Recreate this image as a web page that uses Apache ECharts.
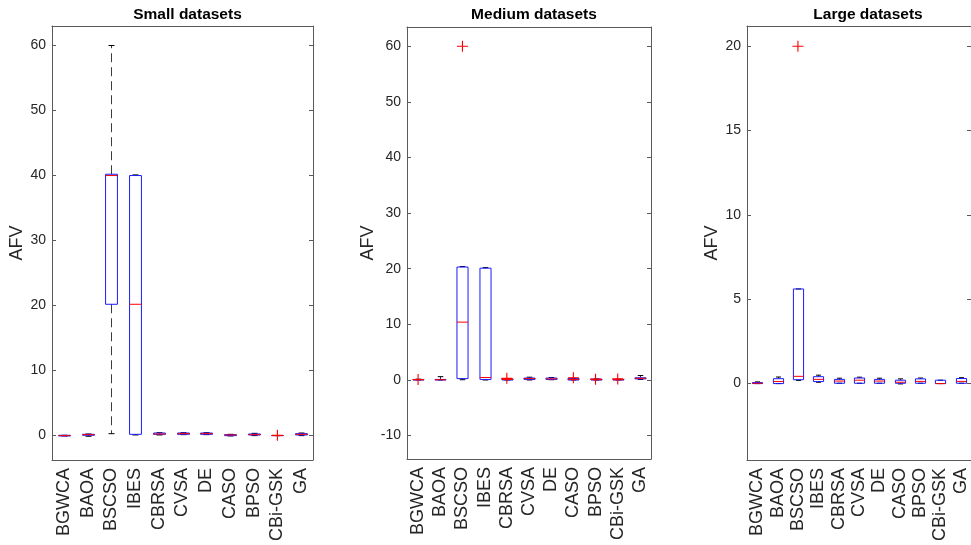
<!DOCTYPE html>
<html>
<head>
<meta charset="utf-8">
<script src="https://cdn.jsdelivr.net/npm/echarts@6/dist/echarts.min.js"></script>
<style>
  html, body { margin: 0; padding: 0; background: #fff; }
  #chart { width: 971px; height: 545px; }
</style>
</head>
<body>
<div id="chart"></div>
<script>
// Algorithms compared in every panel
const categories = ['BGWCA', 'BAOA', 'BSCSO', 'IBES', 'CBRSA', 'CVSA', 'DE', 'CASO', 'BPSO', 'CBi-GSK', 'GA'];

// Box statistics per algorithm: [lower whisker, Q1, median, Q3, upper whisker]
const smallStats = [
  [-0.05, -0.05, 0.0, 0.05, 0.05],
  [-0.1, 0.05, 0.15, 0.2, 0.25],
  [0.3, 20.2, 40.0, 40.2, 60.0],
  [0.1, 0.2, 20.2, 40.0, 40.1],
  [0.1, 0.2, 0.25, 0.4, 0.45],
  [0.15, 0.2, 0.3, 0.4, 0.45],
  [0.15, 0.2, 0.3, 0.4, 0.45],
  [-0.05, 0.0, 0.1, 0.15, 0.2],
  [0.0, 0.1, 0.15, 0.25, 0.35],
  [0.0, 0.0, 0.0, 0.02, 0.02],
  [0.0, 0.1, 0.2, 0.3, 0.4]
];
const mediumStats = [
  [0.0, 0.0, 0.05, 0.1, 0.15],
  [0.0, 0.0, 0.05, 0.1, 0.6],
  [0.05, 0.25, 10.4, 20.3, 20.4],
  [0.0, 0.1, 0.45, 20.1, 20.2],
  [0.0, 0.0, 0.1, 0.2, 0.25],
  [0.0, 0.1, 0.25, 0.35, 0.5],
  [0.05, 0.1, 0.2, 0.35, 0.45],
  [0.0, 0.0, 0.1, 0.25, 0.3],
  [0.0, 0.0, 0.05, 0.15, 0.2],
  [0.0, 0.0, 0.05, 0.1, 0.15],
  [0.1, 0.2, 0.3, 0.4, 0.8]
];
const largeStats = [
  [0.0, 0.0, 0.02, 0.06, 0.1],
  [0.0, 0.0, 0.12, 0.29, 0.39],
  [0.19, 0.23, 0.43, 5.61, 5.61],
  [0.08, 0.12, 0.25, 0.41, 0.5],
  [0.02, 0.02, 0.15, 0.25, 0.32],
  [0.02, 0.02, 0.2, 0.33, 0.38],
  [0.02, 0.02, 0.15, 0.25, 0.32],
  [-0.02, 0.02, 0.08, 0.2, 0.28],
  [0.02, 0.02, 0.13, 0.28, 0.33],
  [0.0, 0.0, 0.0, 0.2, 0.2],
  [0.02, 0.02, 0.13, 0.3, 0.35]
];

// Outliers: [algorithm, value]
const smallOutliers = [['CBi-GSK', 0.05]];
const mediumOutliers = [
  ['BGWCA', 0.1], ['BSCSO', 60.0], ['CBRSA', 0.3], ['CASO', 0.4],
  ['BPSO', 0.15], ['CBi-GSK', 0.2]
];
const largeOutliers = [['BSCSO', 20.0]];

const panelTitles = ['Small datasets', 'Medium datasets', 'Large datasets'];
const yAxisName = 'AFV';

// Panel geometry and value ranges
const panels = [
  { stats: smallStats, outliers: smallOutliers, left: 52, top: 26, width: 261, height: 434, min: -3.75, max: 63, step: 10, nameGap: 22 },
  { stats: mediumStats, outliers: mediumOutliers, left: 407, top: 27, width: 244, height: 432, min: -14.2, max: 63.45, step: 10, nameGap: 26 },
  { stats: largeStats, outliers: largeOutliers, left: 747, top: 26, width: 232, height: 434, min: -4.53, max: 21.2, step: 5, nameGap: 23 }
];

const sans = '"Liberation Sans", Arial, Helvetica, sans-serif';
const frameColor = '#5a5a5a';
const textColor = '#262626';

function renderBox(params, api) {
  const i = api.value(0);
  const lo = api.coord([i, api.value(1)]);
  const q1 = api.coord([i, api.value(2)]);
  const md = api.coord([i, api.value(3)]);
  const q3 = api.coord([i, api.value(4)]);
  const hi = api.coord([i, api.value(5)]);
  const band = api.size([1, 0])[0];
  const bw = band * 0.5;
  const cw = band * 0.25;
  const cx = Math.round(lo[0]) + 0.5;
  const whisker = { stroke: '#3c3c3c', lineWidth: 1, lineDash: [9, 5] };
  const cap = { stroke: '#000', lineWidth: 1 };
  return {
    type: 'group',
    children: [
      { type: 'line', shape: { x1: cx, y1: q3[1], x2: cx, y2: hi[1] }, style: whisker },
      { type: 'line', shape: { x1: cx, y1: q1[1], x2: cx, y2: lo[1] }, style: whisker },
      { type: 'line', shape: { x1: cx - cw / 2, y1: hi[1], x2: cx + cw / 2, y2: hi[1] }, style: cap },
      { type: 'line', shape: { x1: cx - cw / 2, y1: lo[1], x2: cx + cw / 2, y2: lo[1] }, style: cap },
      { type: 'rect', shape: { x: cx - bw / 2, y: q3[1], width: bw, height: q1[1] - q3[1] },
        style: { fill: 'none', stroke: '#1a1aff', lineWidth: 1 } },
      { type: 'line', shape: { x1: cx - bw / 2, y1: md[1], x2: cx + bw / 2, y2: md[1] },
        style: { stroke: '#ff0000', lineWidth: 1 } }
    ]
  };
}

const plusSymbol = 'path://M4.5,0 H5.5 V4.5 H10 V5.5 H5.5 V10 H4.5 V5.5 H0 V4.5 H4.5 Z';

const grid = [], xAxis = [], yAxis = [], series = [], title = [];

panels.forEach((p, k) => {
  grid.push({ left: p.left, top: p.top, width: p.width, height: p.height });
  title.push({
    text: panelTitles[k],
    left: p.left + p.width / 2,
    top: 2,
    textAlign: 'center',
    textStyle: { fontFamily: sans, fontWeight: 'bold', fontSize: 15.5, color: '#000' }
  });
  // bottom and top category axes frame the plot
  const catAxis = {
    type: 'category', gridIndex: k, data: categories,
    axisLine: { onZero: false, lineStyle: { color: frameColor, width: 1 } },
    axisTick: { inside: true, alignWithLabel: true, length: 4, lineStyle: { color: frameColor } },
    splitLine: { show: false }
  };
  xAxis.push(Object.assign({}, catAxis, {
    position: 'bottom',
    axisLabel: { rotate: 90, margin: 8, fontFamily: sans, fontSize: 18, color: textColor, interval: 0 }
  }));
  xAxis.push(Object.assign({}, catAxis, {
    position: 'top',
    axisLabel: { show: false }
  }));
  // left and right value axes
  const valueAxis = {
    type: 'value', gridIndex: k, min: p.min, max: p.max,
    minInterval: p.step, maxInterval: p.step,
    splitLine: { show: false },
    axisLine: { show: true, onZero: false, lineStyle: { color: frameColor, width: 1 } },
    axisTick: { show: true, inside: true, length: 4, lineStyle: { color: frameColor } }
  };
  yAxis.push(Object.assign({}, valueAxis, {
    position: 'left',
    name: yAxisName, nameLocation: 'middle', nameRotate: 90, nameGap: p.nameGap,
    nameTextStyle: { fontFamily: sans, fontSize: 18, color: textColor },
    axisLabel: { fontFamily: sans, fontSize: 14, color: textColor, margin: 6,
      showMinLabel: false, showMaxLabel: false }
  }));
  yAxis.push(Object.assign({}, valueAxis, {
    position: 'right',
    axisLabel: { show: false }
  }));

  series.push({
    type: 'custom',
    xAxisIndex: 2 * k, yAxisIndex: 2 * k,
    renderItem: renderBox,
    encode: { x: 0, y: [1, 2, 3, 4, 5] },
    data: p.stats.map((s, i) => [i].concat(s)),
    silent: true,
    z: 2
  });
  series.push({
    type: 'scatter',
    xAxisIndex: 2 * k, yAxisIndex: 2 * k,
    symbol: plusSymbol,
    symbolSize: 11,
    itemStyle: { color: '#ff0000', opacity: 1 },
    data: p.outliers,
    silent: true,
    z: 3
  });
});

const chart = echarts.init(document.getElementById('chart'), null, { renderer: 'canvas' });
chart.setOption({
  backgroundColor: '#ffffff',
  animation: false,
  title: title,
  grid: grid,
  xAxis: xAxis,
  yAxis: yAxis,
  series: series
});
</script>
</body>
</html>
